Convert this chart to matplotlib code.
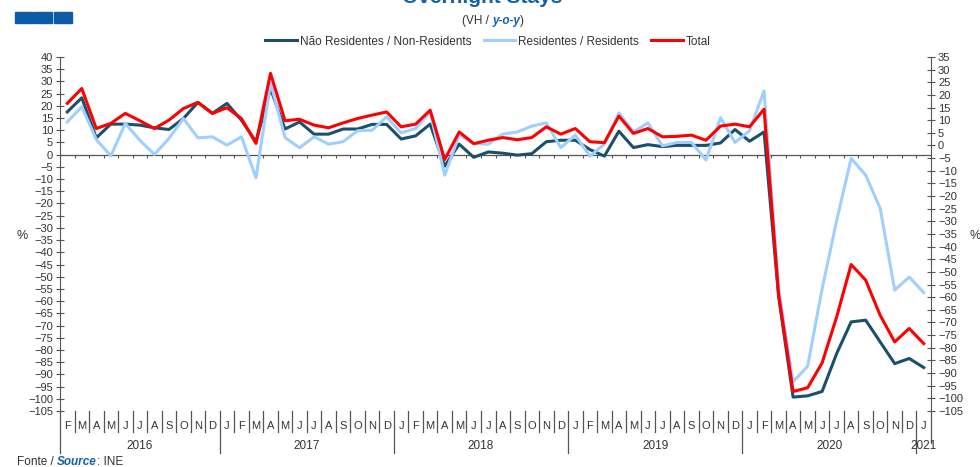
import numpy as np
import matplotlib
matplotlib.use("Agg")
import matplotlib.pyplot as plt
from matplotlib.patches import Rectangle

plt.rcParams['font.family'] = ['Liberation Sans', 'DejaVu Sans']

# Monthly y-o-y change (%), Feb 2016 .. Jan 2021
month_letters = ["J", "F", "M", "A", "M", "J", "J", "A", "S", "O", "N", "D"]
month_numbers = [(1 + i) % 12 for i in range(60)]  # 0 = January
month_labels = [month_letters[m] for m in month_numbers]
years = ["2016", "2017", "2018", "2019", "2020", "2021"]

non_residents = [17.5, 23.3, 6.9, 12.5, 12.5, 12.1, 11.0, 10.3, 14.8, 21.4, 16.9, 21.0,
                 14.1, 5.3, 27.1, 10.5, 13.4, 8.4, 8.4, 10.5, 10.5, 12.4, 12.4, 6.4,
                 7.7, 12.5, -4.7, 4.3, -1.1, 1.1, 0.6, -0.2, 0.4, 5.3, 5.9, 5.9,
                 2.1, -0.6, 9.6, 2.9, 4.1, 3.3, 3.8, 3.8, 3.8, 4.8, 10.3, 5.5,
                 9.3, -58.0, -99.3, -98.8, -97.0, -81.5, -68.5, -67.8, -76.7, -85.6, -83.5, -87.2]
residents = [13.4, 19.6, 6.2, -0.5, 12.8, 5.9, 0.1, 6.6, 14.8, 6.9, 7.3, 3.9,
             7.3, -9.5, 29.5, 7.0, 2.8, 7.3, 4.3, 5.3, 9.8, 10.0, 15.5, 8.9,
             10.7, 17.5, -8.4, 8.0, 4.5, 4.3, 8.4, 9.3, 11.7, 13.0, 2.9, 8.0,
             -0.6, 4.3, 17.1, 9.3, 13.0, 3.6, 5.0, 5.0, -2.2, 15.2, 5.0, 9.8,
             26.1, -55.0, -93.0, -86.7, -55.0, -27.0, -1.5, -8.4, -22.0, -55.5, -50.1, -56.5]
total = [21.0, 27.1, 10.7, 12.8, 16.9, 13.9, 10.7, 14.1, 18.9, 21.4, 16.9, 19.2,
         14.8, 4.6, 33.3, 13.9, 14.5, 12.1, 11.0, 13.0, 14.8, 16.2, 17.5, 11.4,
         12.5, 18.2, -2.0, 9.3, 4.5, 5.9, 7.0, 6.1, 7.0, 11.4, 8.4, 10.7,
         5.3, 4.9, 15.8, 8.7, 10.7, 7.3, 7.5, 8.0, 5.9, 11.7, 12.5, 11.4,
         18.6, -57.0, -97.0, -95.5, -85.3, -66.5, -45.0, -51.4, -65.8, -76.7, -71.2, -77.4]

W, H = 980, 467
axis_col = "#555555"
text_col = "#333333"
blue = "#1660A8"

fig = plt.figure(figsize=(W / 100, H / 100), dpi=100)
ax = fig.add_axes([60 / W, 1 - 411 / H, (931 - 60) / W, (411 - 57) / H])

x = np.arange(len(total))
ax.plot(x, non_residents, color="#1B4F6E", lw=2.2, label="Não Residentes / Non-Residents")
ax.plot(x, residents, color="#9FCFFF", lw=2.2, label="Residentes / Residents")
ax.plot(x, total, color="#FF0000", lw=2.2, label="Total")

ax.set_xlim(-0.5, len(total) - 0.5)
ax.set_ylim(-105, 40)
ax.set_yticks(range(-105, 41, 5))
ax.set_xticks([])
for s in ["top", "bottom", "right"]:
    ax.spines[s].set_visible(False)
ax.spines["left"].set_color(axis_col)
ax.tick_params(axis="y", direction="inout", length=6, width=0.8, color=axis_col,
               labelsize=8, labelcolor=text_col, pad=2)

ax2 = ax.twinx()
ax2.set_ylim(-105, 35)
ax2.set_yticks(range(-105, 36, 5))
for s in ["top", "bottom", "left"]:
    ax2.spines[s].set_visible(False)
ax2.spines["right"].set_color(axis_col)
ax2.tick_params(axis="y", direction="inout", length=6, width=0.8, color=axis_col,
                labelsize=8, labelcolor=text_col, pad=2)

# zero line with month ticks
ax.axhline(0, color=axis_col, lw=0.9, zorder=1)
bounds = np.arange(0.5, len(total) - 0.5)
ax.vlines(bounds, -1.3, 0, color=axis_col, lw=0.8, zorder=1)

# category axis below plot
tr = ax.get_xaxis_transform()
ah = 411 - 57
for b in bounds:
    is_year = month_numbers[int(b + 0.5)] == 0
    bottom = -42 / ah if is_year else -21 / ah
    ax.plot([b, b], [0, bottom], transform=tr, color=axis_col, lw=0.9, clip_on=False)
ax.plot([-0.5, -0.5], [0, -42 / ah], transform=tr, color=axis_col, lw=0.9, clip_on=False)
ax.plot([59.5, 59.5], [0, -32 / ah], transform=tr, color=axis_col, lw=0.9, clip_on=False)
for i, m in enumerate(month_labels):
    ax.text(i, -15 / ah, m, transform=tr, ha="center", va="center", fontsize=8, color=text_col)
year_centers = [5, 16.5, 28.5, 40.5, 52.5, 59]
for yc, yl in zip(year_centers, years):
    ax.text(yc, -35 / ah, yl, transform=tr, ha="center", va="center", fontsize=8.5, color=text_col)

fig.text(22 / W, 1 - 236 / H, "%", ha="center", va="center", fontsize=9, color=text_col)
fig.text(975 / W, 1 - 236 / H, "%", ha="center", va="center", fontsize=9, color=text_col)

fig.legend(loc="upper center", bbox_to_anchor=(488 / W, 1 - 25 / H), ncol=3, frameon=False,
           fontsize=8.5, handlelength=2.7, handletextpad=0.25, columnspacing=1.0,
           labelcolor=text_col)

# header / footer
for x0 in [15, 34, 54]:
    fig.patches.append(Rectangle((x0 / W, 1 - 23 / H), 18 / W, 11 / H,
                                 transform=fig.transFigure, color="#0B5BA6"))
fig.text(482 / W, 1 - 3 / H, "Overnight Stays", ha="center", va="baseline",
         fontsize=15, fontweight="bold", color=blue)


def chain_text(x_px, y_px, parts, size):
    r = fig.canvas.get_renderer()
    for s, style in parts:
        t = fig.text(x_px / W, 1 - y_px / H, s, va="baseline", fontsize=size, **style)
        x_px += t.get_window_extent(renderer=r).width


chain_text(462, 24, [("(VH / ", {"color": text_col}),
                     ("y-o-y", {"color": blue, "fontweight": "bold", "style": "italic"}),
                     (")", {"color": text_col})], 8.5)
chain_text(17, 465, [("Fonte / ", {"color": text_col}),
                     ("Source", {"color": blue, "fontweight": "bold", "style": "italic"}),
                     (": INE", {"color": text_col})], 8.5)

fig.savefig("out.png", dpi=100)
